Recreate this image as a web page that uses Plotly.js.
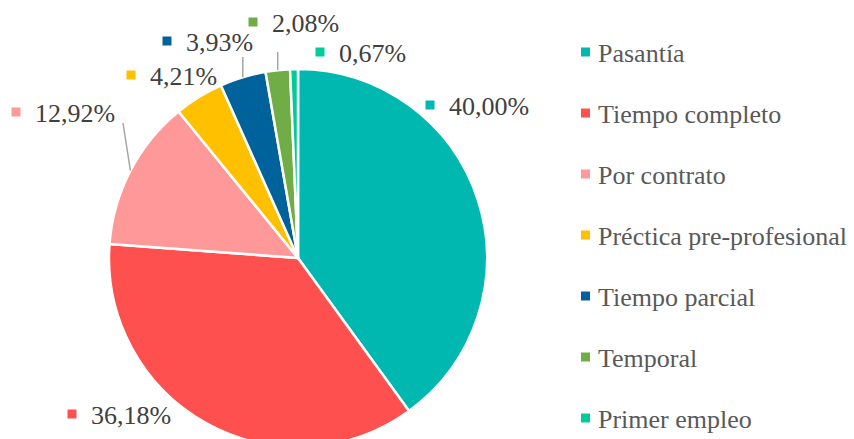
<!DOCTYPE html>
<html>
<head>
<meta charset="utf-8">
<script src="https://cdn.plot.ly/plotly-3.0.1.min.js"></script>
<style>
html,body{margin:0;padding:0;overflow:hidden;background:#fff;}
#chart{width:854px;height:450px;}
#chart svg text{font-family:"Liberation Serif","Times New Roman","DejaVu Serif",serif !important;}
</style>
</head>
<body>
<div id="chart"></div>
<script>
// ---- data ----
const categories = ["Pasantía", "Tiempo completo", "Por contrato", "Préctica pre-profesional", "Tiempo parcial", "Temporal", "Primer empleo"];
const values = [40.00, 36.18, 12.92, 4.21, 3.93, 2.08, 0.67];
const colors = ["#00B8B0", "#FF5050", "#FF9999", "#FFC000", "#00629B", "#70AD47", "#00CC99"];

// ---- layout constants (positions, not data) ----
const W = 854, H = 450;
const CX = 298, CY = 258, R = 189;
const labelMarkX = [430, 72, 16, 131, 167, 253, 320];
const labelMarkY = [105, 414, 112, 75, 41, 22, 52];
const labelTextDX = 19, textDY = 3;
const leaderIdx = [2, 4, 5];
const leaderStart = [[123, 123], [null, 57], [null, 52]];
const legendX = 585.5, legendTextX = 598, legendTop = 52, legendStep = 61;

const FONT = "Liberation Serif";
const fmt = v => v.toFixed(2).replace('.', ',') + '%';

// slice mid points on the rim (clockwise from 12 o'clock)
const total = values.reduce((a, b) => a + b, 0);
let cum = 0;
const mids = values.map(v => { const m = (cum + v / 2) / total * 2 * Math.PI; cum += v; return m; });
const rimPt = i => [CX + R * Math.sin(mids[i]), CY - R * Math.cos(mids[i])];

const pie = {
  type: 'pie',
  labels: categories,
  values: values,
  sort: false,
  direction: 'clockwise',
  rotation: 0,
  textinfo: 'none',
  hoverinfo: 'label+percent',
  showlegend: false,
  marker: {colors: colors, line: {color: '#ffffff', width: 2.5}},
  domain: {x: [(CX - R) / W, (CX + R) / W], y: [(H - CY - R) / H, (H - CY + R) / H]}
};

const labelMarkers = {
  type: 'scatter', mode: 'markers', x: labelMarkX, y: labelMarkY,
  marker: {symbol: 'square', size: 9, color: colors}, hoverinfo: 'skip', showlegend: false
};
const labelTexts = {
  type: 'scatter', mode: 'text', x: labelMarkX.map(x => x + labelTextDX), y: labelMarkY.map(y => y + textDY),
  text: values.map(fmt), textposition: 'middle right',
  textfont: {family: FONT, size: 26, color: '#404040'}, hoverinfo: 'skip', showlegend: false
};
const legendMarkers = {
  type: 'scatter', mode: 'markers', x: categories.map(() => legendX), y: categories.map((c, i) => legendTop + i * legendStep),
  marker: {symbol: 'square', size: 9, color: colors}, hoverinfo: 'skip', showlegend: false
};
const legendTexts = {
  type: 'scatter', mode: 'text', x: categories.map(() => legendTextX), y: categories.map((c, i) => legendTop + i * legendStep + textDY),
  text: categories, textposition: 'middle right',
  textfont: {family: FONT, size: 26, color: '#595959'}, hoverinfo: 'skip', showlegend: false
};

const shapes = leaderIdx.map((idx, k) => {
  const end = rimPt(idx);
  const s = leaderStart[k];
  const x0 = s[0] === null ? end[0] : s[0];
  return {type: 'line', xref: 'x', yref: 'y', x0: x0, y0: s[1], x1: end[0], y1: end[1],
          line: {color: '#A6A6A6', width: 1.5}, layer: 'above'};
});

const layout = {
  width: W, height: H,
  margin: {l: 0, r: 0, t: 0, b: 0},
  paper_bgcolor: '#ffffff', plot_bgcolor: 'rgba(0,0,0,0)',
  xaxis: {range: [0, W], visible: false, fixedrange: true, domain: [0, 1]},
  yaxis: {range: [H, 0], visible: false, fixedrange: true, domain: [0, 1]},
  showlegend: false,
  shapes: shapes,
  font: {family: FONT}
};

Plotly.newPlot('chart', [labelMarkers, labelTexts, legendMarkers, legendTexts, pie], layout, {displayModeBar: false, staticPlot: true});
</script>
</body>
</html>
